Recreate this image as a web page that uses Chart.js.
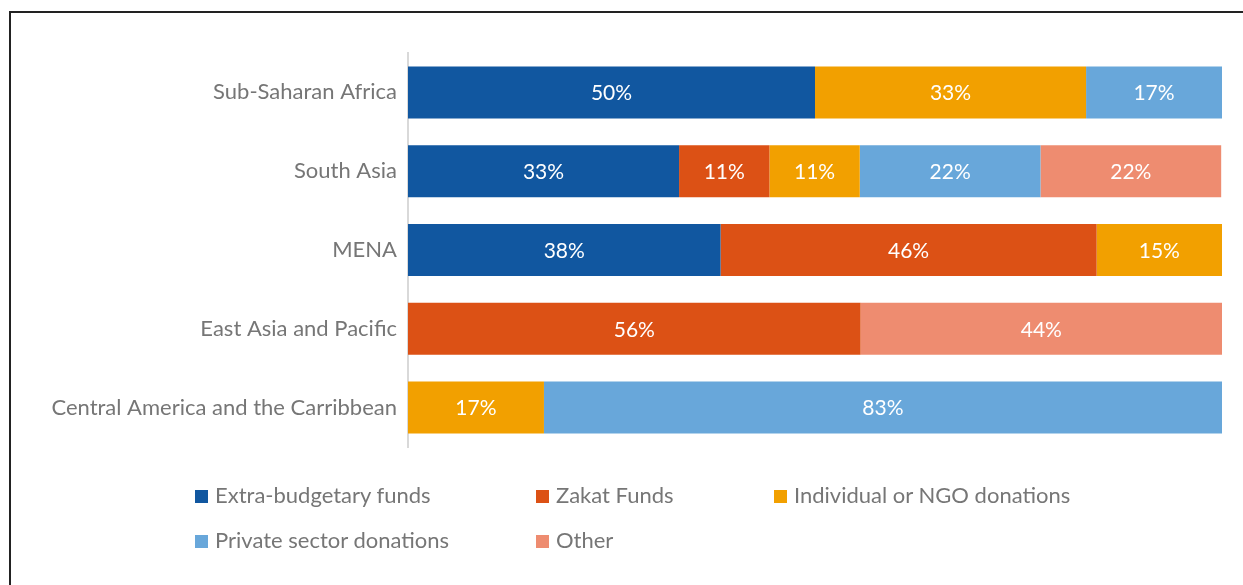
<!DOCTYPE html>
<html>
<head>
<meta charset="utf-8">
<script src="https://cdn.jsdelivr.net/npm/chart.js@4.4.1/dist/chart.umd.min.js"></script>
<style>
  html, body { margin: 0; padding: 0; background: #fff; }
  body { width: 1243px; height: 585px; position: relative; overflow: hidden; }
  #frame { position: absolute; left: 9px; top: 11px; width: 1400px; height: 800px; border-top: 2px solid #222; border-left: 2px solid #222; }
  #wrap { position: absolute; left: 0; top: 0; width: 1243px; height: 585px; }
  .leg { position: absolute; font-family: Lato, sans-serif; font-size: 22px; color: #767676; white-space: nowrap; line-height: 24px; }
  .leg span.box { display: inline-block; width: 13px; height: 13px; margin-right: 7px; vertical-align: 0px; }
</style>
</head>
<body>
<div id="frame"></div>
<div id="wrap"><canvas id="chart" width="1243" height="585"></canvas></div>
<div id="legend"></div>
<script>
// regions, top to bottom
var regions = ['Sub-Saharan Africa', 'South Asia', 'MENA', 'East Asia and Pacific', 'Central America and the Carribbean'];

// shares per funding source (percent), in region order
var extraBudgetary = [50, 33.3, 38.4, 0, 0];
var zakatFunds     = [0, 11.1, 46.2, 55.6, 0];
var individualNgo  = [33.3, 11.1, 15.4, 0, 16.7];
var privateSector  = [16.7, 22.2, 0, 0, 83.3];
var other          = [0, 22.2, 0, 44.4, 0];

var seriesNames = ['Extra-budgetary funds', 'Zakat Funds', 'Individual or NGO donations', 'Private sector donations', 'Other'];
var seriesColors = ['#1157a0', '#dc5115', '#f2a000', '#68a7da', '#ee8c70'];

var txtGray = '#767676';
var fontFam = 'Lato, sans-serif';

// write the rounded share in the middle of each bar piece
var barLabels = {
    id: 'barLabels',
    afterDatasetsDraw: function(chart) {
        var ctx = chart.ctx;
        ctx.save();
        ctx.fillStyle = '#fff';
        ctx.font = '21px ' + fontFam;
        ctx.textAlign = 'center';
        ctx.textBaseline = 'middle';
        chart.data.datasets.forEach(function(ds, i) {
            var meta = chart.getDatasetMeta(i);
            meta.data.forEach(function(bar, j) {
                var v = ds.data[j];
                if (!v) return;
                var p = bar.getProps(['x', 'y', 'base'], true);
                ctx.fillText(Math.round(v) + '%', (p.x + p.base) / 2, p.y + 1);
            });
        });
        ctx.restore();
    }
};

var allSeries = [extraBudgetary, zakatFunds, individualNgo, privateSector, other];
var datasets = [];
for (let i = 0; i < allSeries.length; i++) {
    datasets.push({
        label: seriesNames[i],
        data: allSeries[i],
        backgroundColor: seriesColors[i],
        borderWidth: 0,
        categoryPercentage: 1,
        barPercentage: 0.66
    });
}

var chart = new Chart(document.getElementById('chart'), {
    type: 'bar',
    data: { labels: regions, datasets: datasets },
    plugins: [barLabels],
    options: {
        indexAxis: 'y',
        responsive: false,
        animation: false,
        layout: { padding: { top: 53, bottom: 138, right: 21, left: 0 } },
        plugins: {
            legend: { display: false },
            tooltip: { enabled: false }
        },
        scales: {
            x: { stacked: true, min: 0, max: 100, display: false },
            y: {
                stacked: true,
                grid: { display: false },
                border: { display: true, color: '#d9d9d9', width: 2 },
                ticks: { color: txtGray, font: { family: fontFam, size: 22 }, padding: 3 },
                afterFit: function(scale) { scale.width = 408; }
            }
        }
    }
});

// legend laid out in columns like the original
var legPos = [[195, 483], [536, 483], [774, 483], [195, 528], [536, 528]];
var legDiv = document.getElementById('legend');
for (let i = 0; i < seriesNames.length; i++) {
    var d = document.createElement('div');
    d.className = 'leg';
    d.style.left = legPos[i][0] + 'px';
    d.style.top = legPos[i][1] + 'px';
    d.innerHTML = '<span class="box" style="background:' + seriesColors[i] + '"></span>' + seriesNames[i];
    legDiv.appendChild(d);
}
</script>
</body>
</html>
